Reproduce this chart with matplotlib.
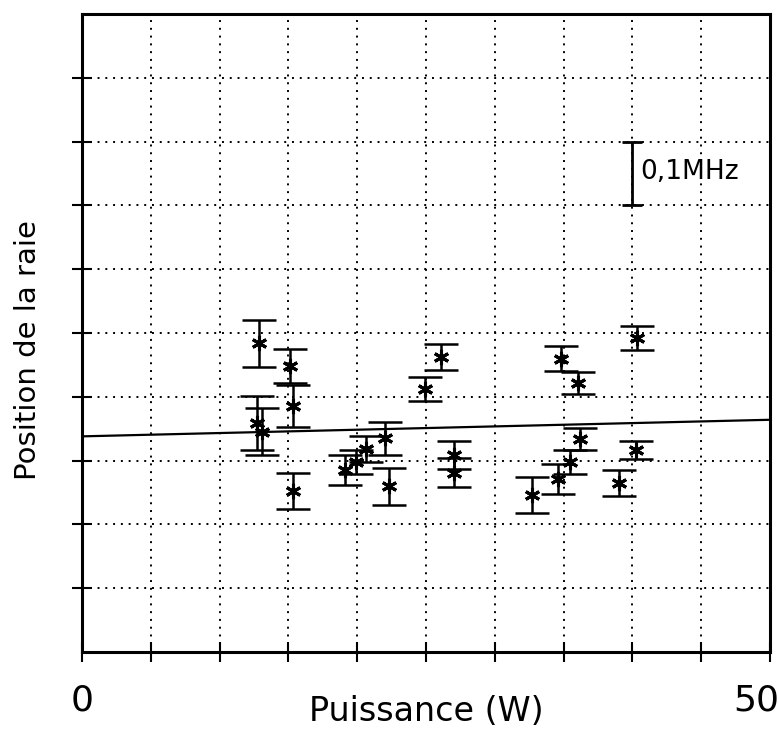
import matplotlib.pyplot as plt
import matplotlib.transforms as mtransforms

# Data (x in W, y in MHz relative to bottom of frame)
power = [12.85, 12.70, 13.07, 15.11, 15.33, 15.33, 19.12, 19.93, 20.66, 22.04,
         22.34, 24.96, 26.06, 27.01, 27.01, 32.70, 34.60, 35.47, 36.20, 34.82,
         36.06, 40.36, 40.29, 39.05]
position = [0.484, 0.359, 0.345, 0.448, 0.386, 0.252, 0.285, 0.298, 0.318, 0.335,
            0.260, 0.412, 0.462, 0.309, 0.281, 0.246, 0.271, 0.298, 0.334, 0.460,
            0.422, 0.492, 0.317, 0.265]
err = [0.037, 0.043, 0.037, 0.027, 0.033, 0.028, 0.024, 0.019, 0.020, 0.026,
       0.029, 0.019, 0.020, 0.022, 0.023, 0.028, 0.024, 0.019, 0.017, 0.020,
       0.017, 0.019, 0.014, 0.020]

# Fitted straight line
fit_x = [0, 50]
fit_y = [0.338, 0.364]

# Scale bar (0,1 MHz)
scale_x = [40.0]
scale_y = [0.75]
scale_half = [0.05]

xticks = [0, 5, 10, 15, 20, 25, 30, 35, 40, 45, 50]
xticklabels = ['0', '', '', '', '', '', '', '', '', '', '50']
yticks = [0.1, 0.2, 0.3, 0.4, 0.5, 0.6, 0.7, 0.8, 0.9]

fig = plt.figure(figsize=(7.79, 7.49), dpi=100)
ax = fig.add_axes([82 / 779, 97 / 749, 688 / 779, 638 / 749])

# Dotted grid
for gx in xticks[1:-1]:
    ax.axvline(gx, color='black', linewidth=1.4, linestyle=(0, (1, 3)), zorder=1)
for gy in yticks:
    ax.axhline(gy, color='black', linewidth=1.4, linestyle=(0, (1, 3)), zorder=1)

ax.plot(fit_x, fit_y, color='black', linewidth=1.6, zorder=2)

ax.errorbar(power, position, yerr=err, fmt='none', ecolor='black',
            elinewidth=1.8, capsize=12, capthick=1.8, zorder=3)
ax.plot(power, position, linestyle='none', marker=(6, 2, 0), markersize=11,
        markeredgewidth=2.2, color='black', zorder=4)

ax.errorbar(scale_x, scale_y, yerr=scale_half, fmt='none', ecolor='black',
            elinewidth=2, capsize=7, capthick=2)
ax.text(40.6, 0.752, '0,1MHz', fontsize=19, va='center', ha='left')

ax.set_xlim(0, 50)
ax.set_ylim(0, 1.0)
ax.set_xticks(xticks)
ax.set_xticklabels(xticklabels)
ax.set_yticks(yticks)
ax.set_yticklabels([])
ax.tick_params(axis='x', direction='inout', length=14, width=1.5, labelsize=26, pad=16)
ax.tick_params(axis='y', direction='inout', length=14, width=1.5)

# keep the "50" label inside the figure, as on the scan
last = ax.get_xticklabels()[-1]
last.set_ha('right')
last.set_transform(last.get_transform() + mtransforms.ScaledTranslation(7 / 72, 0, fig.dpi_scale_trans))

for side in ['left', 'right', 'top', 'bottom']:
    ax.spines[side].set_linewidth(2.2)

ax.set_xlabel('Puissance (W)', fontsize=24)
ax.xaxis.set_label_coords(0.5, -0.094)
ax.xaxis.label.set_va('center')
ax.set_ylabel('Position de la raie', fontsize=21)
ax.yaxis.set_label_coords(-0.078, 0.473)
ax.yaxis.label.set_va('center')

fig.savefig('out.png', dpi=100)
